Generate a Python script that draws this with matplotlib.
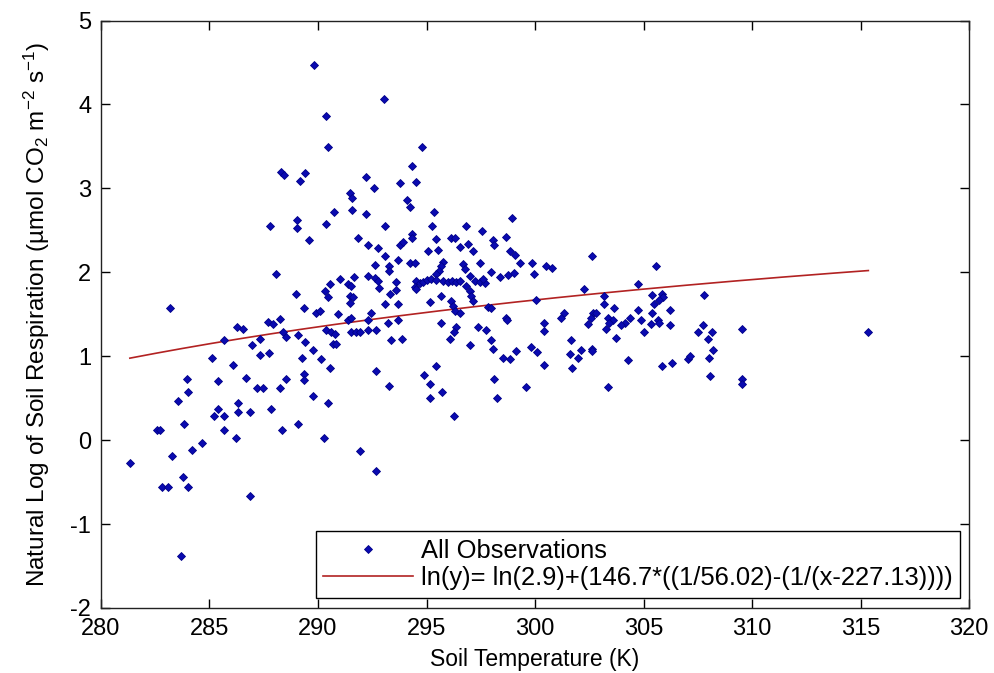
import numpy as np
import matplotlib
matplotlib.use("Agg")
import matplotlib.pyplot as plt

# Observed soil temperature (K)
temp_k = [
    281.33, 282.59, 282.72, 283.26, 283.18, 283.53, 283.97, 284.02, 283.83, 283.79,
    284.20, 284.67, 285.12, 285.40, 285.20, 285.40, 285.65, 285.65, 285.65, 286.09,
    286.21, 286.32, 286.32, 286.29, 286.55, 286.67, 286.86, 286.94, 287.32, 287.32,
    287.20, 287.46, 287.76, 287.85, 287.70, 287.94, 288.06, 288.24, 288.24, 288.35,
    288.52, 288.40, 288.52, 288.97, 289.07, 289.07, 289.36, 289.27, 289.38, 289.36,
    289.36, 289.58, 282.82, 283.09, 284.02, 286.86, 283.67,
    288.30, 288.45, 287.78, 289.05, 289.05,
    289.81, 293.04, 290.36, 290.47, 294.81, 289.38, 289.16, 294.32, 294.50, 293.77,
    292.21, 292.57, 291.46, 291.57, 294.12, 294.23, 290.73, 291.56, 292.21, 295.35,
    290.36, 293.09, 295.25, 296.82, 297.54, 291.85, 294.32, 294.32, 295.46,
    296.15, 296.30, 298.05,
    292.31, 292.77, 293.77, 293.92, 293.08, 293.69, 292.62, 293.27, 293.27, 294.23,
    294.46, 295.07, 295.53, 296.53, 296.91, 297.14, 298.10, 297.45, 296.68, 296.76,
    295.76, 295.69, 295.58, 295.46, 290.54, 290.31, 290.46, 291.00, 291.39, 291.54,
    291.65, 291.46, 291.62, 291.46, 292.31, 292.62, 292.77, 292.81, 293.58, 293.61,
    293.31, 293.08, 293.69, 294.53, 294.69, 294.84, 295.00, 295.23, 295.42, 294.46,
    294.53, 295.76, 295.99, 296.19, 296.38, 296.53, 296.84, 296.99, 297.07, 297.14,
    297.22, 297.45, 297.68, 297.60, 296.99, 297.99, 295.15, 295.69, 296.15, 296.22,
    296.30, 296.53, 297.83, 297.99, 289.93, 290.08, 290.93, 291.39, 291.50, 292.46,
    292.31, 293.23, 293.69, 290.39, 290.62, 290.77, 290.70, 290.85, 291.54, 291.77,
    291.92, 292.31, 292.69, 293.38, 293.89, 289.77, 290.16, 290.54, 289.75, 290.47,
    290.27, 292.66, 293.27, 295.69, 296.38, 296.25, 296.07, 297.37, 297.73, 297.99,
    298.06, 296.99, 295.42, 294.87, 295.15, 295.73, 295.15, 296.25, 298.09, 298.25,
    291.92, 292.66,
    298.94, 298.68, 298.83, 299.06, 299.29, 299.86, 300.49, 300.78, 299.95, 298.75,
    299.03, 298.37, 302.62, 305.57,
    304.74, 302.25, 300.06, 303.17, 305.38, 305.84, 305.89, 307.80, 303.20, 303.63,
    305.50, 305.73, 304.74, 306.23, 305.38, 298.68, 298.70, 301.33, 301.21, 302.66,
    302.82, 302.56, 303.36, 303.59, 303.43, 304.13, 304.36, 303.97, 304.89, 305.66,
    305.35, 305.73, 306.23, 300.40, 300.40, 302.43, 303.25, 303.74, 305.01, 307.50,
    307.75, 301.64, 299.14, 299.83, 300.10, 301.59, 301.98, 302.10, 302.62, 302.62,
    298.52, 298.83, 300.40, 301.70, 304.28, 305.84, 306.32, 307.04, 307.16, 299.60,
    303.36,
    308.16, 307.96, 308.22, 308.04, 308.07, 309.52, 309.52, 309.52, 315.36,
]

# Natural log of soil respiration
ln_resp = [
    -0.27, 0.12, 0.12, -0.19, 1.57, 0.47, 0.73, 0.57, 0.19, -0.44,
    -0.12, -0.04, 0.98, 0.71, 0.29, 0.37, 0.29, 0.12, 1.19, 0.90,
    0.02, 0.44, 0.33, 1.35, 1.32, 0.74, 0.33, 1.13, 1.21, 1.02,
    0.62, 0.62, 1.04, 0.37, 1.41, 1.38, 1.98, 1.44, 0.62, 0.12,
    0.73, 1.29, 1.23, 1.74, 1.25, 0.19, 1.58, 0.98, 1.17, 0.79,
    0.72, 2.39, -0.56, -0.56, -0.56, -0.67, -1.38,
    3.19, 3.16, 2.55, 2.62, 2.53,
    4.47, 4.06, 3.86, 3.49, 3.49, 3.18, 3.09, 3.27, 3.08, 3.06,
    3.13, 3.00, 2.94, 2.88, 2.86, 2.78, 2.72, 2.74, 2.70, 2.72,
    2.57, 2.55, 2.55, 2.55, 2.49, 2.41, 2.46, 2.41, 2.40,
    2.41, 2.41, 2.38,
    2.33, 2.29, 2.32, 2.36, 2.19, 2.15, 2.09, 2.08, 2.02, 2.11,
    2.11, 2.25, 2.26, 2.30, 2.34, 2.25, 2.33, 2.11, 2.10, 2.04,
    2.12, 2.08, 2.02, 1.98, 1.86, 1.78, 1.70, 1.92, 1.86, 1.84,
    1.94, 1.72, 1.70, 1.63, 1.95, 1.93, 1.90, 1.81, 1.88, 1.79,
    1.74, 1.62, 1.62, 1.90, 1.87, 1.88, 1.91, 1.92, 1.91, 1.82,
    1.80, 1.90, 1.88, 1.90, 1.88, 1.90, 1.84, 1.78, 1.72, 1.66,
    1.90, 1.88, 1.87, 1.92, 1.96, 2.00, 1.65, 1.72, 1.66, 1.60,
    1.54, 1.52, 1.59, 1.58, 1.52, 1.54, 1.50, 1.43, 1.45, 1.52,
    1.43, 1.39, 1.43, 1.31, 1.29, 1.26, 1.15, 1.15, 1.29, 1.29,
    1.29, 1.31, 1.31, 1.19, 1.21, 1.07, 0.97, 0.86, 0.53, 0.44,
    0.02, 0.82, 0.64, 1.39, 1.35, 1.29, 1.21, 1.35, 1.31, 1.19,
    1.09, 1.13, 0.88, 0.78, 0.67, 0.57, 0.50, 0.29, 0.73, 0.50,
    -0.13, -0.37,
    2.65, 2.42, 2.25, 2.21, 2.11, 2.11, 2.07, 2.05, 1.98, 1.97,
    1.99, 1.94, 2.19, 2.07,
    1.86, 1.80, 1.67, 1.72, 1.73, 1.74, 1.70, 1.73, 1.62, 1.58,
    1.62, 1.67, 1.55, 1.55, 1.51, 1.46, 1.43, 1.51, 1.45, 1.51,
    1.51, 1.46, 1.45, 1.43, 1.40, 1.39, 1.45, 1.37, 1.43, 1.43,
    1.38, 1.39, 1.37, 1.39, 1.30, 1.38, 1.33, 1.22, 1.29, 1.29,
    1.37, 1.19, 1.06, 1.11, 1.05, 1.03, 0.98, 1.07, 1.09, 1.06,
    0.98, 0.97, 0.90, 0.86, 0.96, 0.88, 0.92, 0.97, 1.00, 0.63,
    0.63,
    1.29, 1.20, 1.08, 0.98, 0.77, 1.33, 0.73, 0.67, 1.29,
]

# Fitted model parameters (from legend)
fit_a = 2.9
fit_b = 146.7
fit_tref = 56.02
fit_t0 = 227.13
fit_label = "ln(y)= ln(2.9)+(146.7*((1/56.02)-(1/(x-227.13))))"
obs_label = "All Observations"

x_ticks = [280, 285, 290, 295, 300, 305, 310, 315, 320]
y_ticks = [-2, -1, 0, 1, 2, 3, 4, 5]

plt.rcParams['font.family'] = ['Liberation Sans', 'DejaVu Sans']
plt.rcParams['mathtext.default'] = 'regular'
plt.rcParams['axes.unicode_minus'] = False

fig = plt.figure(figsize=(9.95, 6.73), dpi=100)
ax = fig.add_axes([0.1015, 0.0966, 0.8724, 0.8729])

ax.plot(temp_k, ln_resp, linestyle='none', marker='D', markersize=4.5,
        markerfacecolor='#0a0ab0', markeredgecolor='#000088', markeredgewidth=0.6,
        label=obs_label, zorder=3)

xfit = np.linspace(min(temp_k), max(temp_k), 200)
yfit = np.log(fit_a) + fit_b * ((1.0 / fit_tref) - (1.0 / (xfit - fit_t0)))
ax.plot(xfit, yfit, color='#b22222', linewidth=1.2, label=fit_label, zorder=2)

ax.set_xlim(280, 320)
ax.set_ylim(-2, 5)
ax.set_xticks(x_ticks)
ax.set_yticks(y_ticks)
ax.tick_params(direction='in', top=True, right=True, length=6.5, width=1.0,
               labelsize=17, pad=7, colors='black')
for sp in ax.spines.values():
    sp.set_linewidth(1.0)
    sp.set_color('#222222')

ax.set_xlabel('Soil Temperature (K)', fontsize=16.5)
ax.xaxis.set_label_coords(0.5, -0.088)
ax.xaxis.label.set_va('center')
ax.set_ylabel('Natural Log of Soil Respiration (µmol CO$_2$ m$^{-2}$ s$^{-1}$)', fontsize=17.5)
ax.yaxis.set_label_coords(-0.074, 0.5)
ax.yaxis.label.set_va('center')

leg = ax.legend(loc='lower right', bbox_to_anchor=(0.9896, 0.017), borderaxespad=0,
                fontsize=18.4, fancybox=False, framealpha=1, edgecolor='black',
                handlelength=3.5, handletextpad=0.3, borderpad=0.3, labelspacing=0.15,
                markerscale=0.9)
leg.get_frame().set_linewidth(1.0)

fig.savefig('out.png', dpi=100)
